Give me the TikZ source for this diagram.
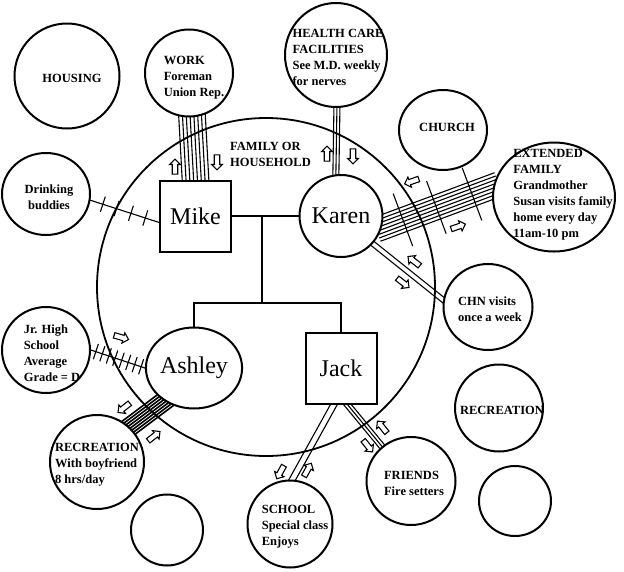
\documentclass[tikz,border=0pt]{standalone}
\usepackage{fontspec}
\setmainfont{Liberation Serif}
\usetikzlibrary{calc,shapes.geometric,shapes.arrows,backgrounds}

\newcommand\tieband[4][tie]{%
  \foreach \off in {#4}
    \draw[#1] ($(#2)!-6pt!(#3)!\off*1pt!90:(#3)$) -- ($(#3)!-6pt!(#2)!\off*1pt!-90:(#2)$);}
\newcommand\stressticks[4]{%
  \foreach \tpos in {#3}
    \draw[tie] ($(#1)!\tpos!(#2)!#4!90:(#2)$) -- ($(#1)!\tpos!(#2)!#4!-90:(#2)$);}

\begin{document}
\begin{tikzpicture}[x=1pt, y=-1pt,
    eco/.style={draw, ellipse, line width=2pt, fill=white, inner sep=0pt},
    member/.style={draw, rectangle, line width=2pt, fill=white, minimum size=71pt, font=\fontsize{24}{26}\selectfont},
    person/.style={eco, font=\fontsize{24}{26}\selectfont},
    txt/.style={font=\bfseries\fontsize{12.5}{16}\selectfont, align=left, inner sep=0pt},
    tie/.style={line width=1.1pt},
    strongtie/.style={line width=1.6pt},
    tree/.style={line width=1.8pt},
    flow/.style={draw, single arrow, line width=1.1pt, fill=white, inner xsep=0pt, inner ysep=2.2pt, minimum height=15pt, minimum width=0pt, single arrow head extend=2.6pt}]
    \useasboundingbox (0,0) rectangle (624,571);

    \node[draw, circle, line width=1.8pt, minimum size=338pt] (household) at (266,287) {};
    \node[txt, anchor=west] (hhlabel) at (230,154) {FAMILY OR\\HOUSEHOLD};

    \node[member] (mike) at (195.5,216) {Mike};
    \node[person, minimum width=78pt, minimum height=82pt] (karen) at (341,216) {Karen};
    \node[person, minimum width=79pt, minimum height=81pt] (ashley) at (194,368) {Ashley};
    \node[member] (jack) at (341,368) {Jack};

    \node[eco, minimum width=105pt, minimum height=105pt, label={[txt, xshift=5pt, yshift=-2pt]center:HOUSING}] (housing) at (67,76) {};
    \node[eco, minimum width=88pt, minimum height=87pt, label={[txt, xshift=5pt, yshift=-5pt]center:{WORK\\Foreman\\Union Rep.}}] (work) at (189,73) {};
    \node[eco, minimum width=102pt, minimum height=104pt, label={[txt, xshift=2pt, yshift=-2pt]center:{HEALTH CARE\\FACILITIES\\See M.D. weekly\\for nerves}}] (health) at (336,55) {};
    \node[eco, minimum width=88pt, minimum height=80pt, label={[txt, xshift=4pt, yshift=3pt]center:CHURCH}] (church) at (443,130) {};
    \node[eco, minimum width=122pt, minimum height=109pt, label={[txt, xshift=9pt, yshift=2pt]center:{EXTENDED\\FAMILY\\Grandmother\\Susan visits family\\home every day\\11am-10 pm}}] (extfam) at (554,197) {};
    \node[eco, minimum width=88pt, minimum height=82pt, label={[txt, align=center, xshift=3pt, yshift=-3pt]center:{Drinking\\buddies}}] (drink) at (46,194) {};
    \node[eco, minimum width=88pt, minimum height=86pt, label={[txt, xshift=6pt, yshift=-3pt]center:{Jr. High\\School\\Average\\Grade = D}}] (jrhigh) at (46,350) {};
    \node[eco, minimum width=89pt, minimum height=86pt, label={[txt, xshift=2pt, yshift=-2pt]center:{CHN visits\\once a week}}] (chn) at (488,307) {};
    \node[eco, minimum width=88pt, minimum height=87pt, label={[txt, xshift=3pt, yshift=-2pt]center:RECREATION}] (recreation) at (499,408) {};
    \node[eco, minimum width=94pt, minimum height=94pt, label={[txt, yshift=-3pt]center:{RECREATION\\With boyfriend\\8 hrs/day}}] (ashleyrec) at (97,462) {};
    \node[eco, minimum width=89pt, minimum height=88pt, label={[txt, xshift=3pt, yshift=-2pt]center:{FRIENDS\\Fire setters}}] (friends) at (411,481) {};
    \node[eco, minimum width=85pt, minimum height=87pt, label={[txt, xshift=5pt, yshift=-3pt]center:{SCHOOL\\Special class\\Enjoys}}] (school) at (290,524) {};
    \node[eco, minimum width=72pt, minimum height=71pt] (empty1) at (167,530) {};
    \node[eco, minimum width=72pt, minimum height=70pt] (empty2) at (515,501) {};

    \draw[tree] (mike) -- (karen);
    \coordinate (marriage) at ($(mike.east)!0.45!(karen.west)$);
    \coordinate (kids) at ($(marriage)+(0,87)$);
    \draw[tree] (marriage) -- (kids);
    \draw[tree] (ashley.north) |- (kids) -| (jack.north);

    \begin{pgfonlayer}{background}
    \tieband{mike.north}{work.-86}{-13.3,-9.5,-5.7,-1.9,1.9,5.7,9.5,13.3}
    \tieband{mike.-170}{drink.-8}{0}
    \stressticks{mike.-170}{drink.-8}{0.2,0.41,0.62,0.82}{8pt}
    \tieband{karen.97}{health.-89}{-3,0,3}
    \tieband{karen.-16}{extfam.170}{-12.25,-8.75,-5.25,-1.75,1.75,5.25,8.75,12.25}
    \stressticks{karen.-16}{extfam.170}{0.19,0.49,0.81}{28pt}
    \tieband{karen.-41}{chn.171}{-2.5,2.5}
    \tieband{ashley.180}{jrhigh.0}{0}
    \stressticks{ashley.180}{jrhigh.0}{0.07,0.19,0.31,0.43,0.55,0.67,0.79,0.91}{8pt}
    \tieband[strongtie]{ashley.-132}{ashleyrec.47}{-9.1,-6.5,-3.9,-1.3,1.3,3.9,6.5,9.1}
    \tieband{jack.-101}{school.87}{-3,3}
    \tieband{jack.-80}{friends.130}{-3,0,3}
    \end{pgfonlayer}

    \node[flow, rotate=90] (workup) at (175,168) {};
    \node[flow, rotate=-90] (workdown) at (217,161) {};
    \node[flow, rotate=90] (healthup) at (327,155) {};
    \node[flow, rotate=-90] (healthdown) at (353,155) {};
    \node[flow, rotate=199] (extin) at (413,181) {};
    \node[flow, rotate=19] (extout) at (457,227) {};
    \node[flow, rotate=142] (chnin) at (415,262) {};
    \node[flow, rotate=-38] (chnout) at (402,282) {};
    \node[flow, rotate=-16] (schoolin) at (120,337) {};
    \node[flow, rotate=218] (recout) at (125,407) {};
    \node[flow, rotate=38] (recin) at (153,437) {};
    \node[flow, rotate=241] (jackout) at (281,471) {};
    \node[flow, rotate=61] (jackin) at (307,471) {};
    \node[flow, rotate=-51] (friendsout) at (367,445) {};
    \node[flow, rotate=129] (friendsin) at (383,428) {};
\end{tikzpicture}
\end{document}
